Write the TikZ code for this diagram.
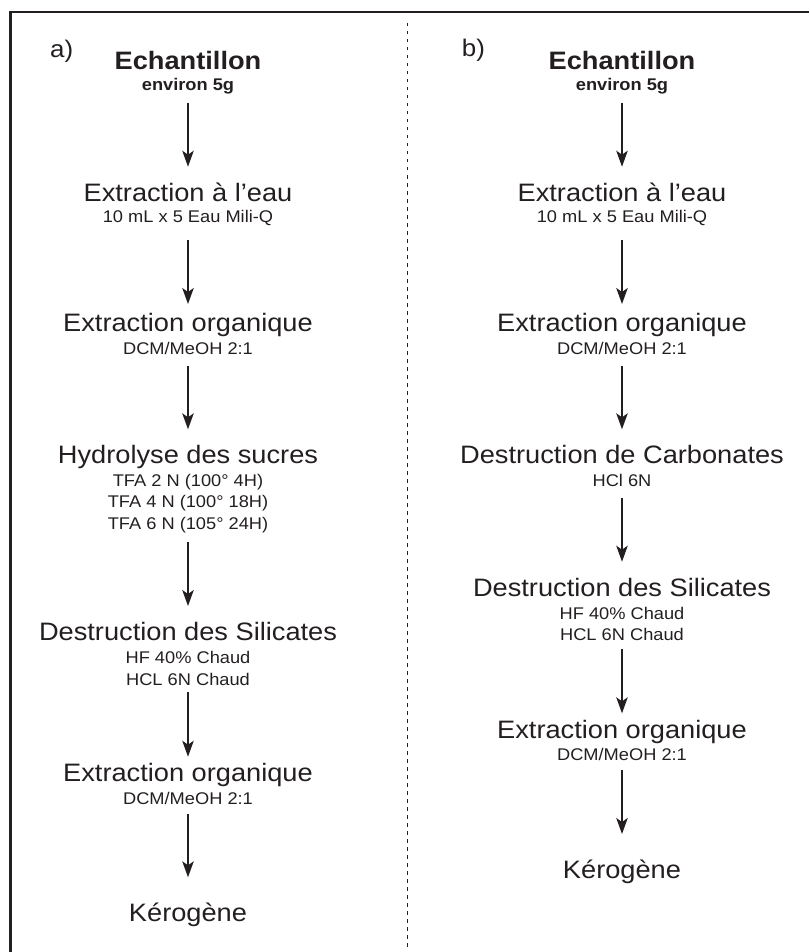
\documentclass[tikz,border=0pt]{standalone}
\usepackage{fontspec}
\setmainfont{Liberation Sans}[FakeStretch=1.08]
\usetikzlibrary{arrows.meta,calc}
\definecolor{ink}{RGB}{35,31,32}

\begin{document}
\begin{tikzpicture}[x=1pt,y=-1pt,
  every node/.style={inner sep=0pt,text=ink},
  stepname/.style={anchor=base,font=\fontsize{25.2}{28}\selectfont},
  samplename/.style={anchor=base,font=\bfseries\fontsize{25.2}{28}\selectfont},
  note/.style={anchor=base,font=\fontsize{16.9}{20}\selectfont},
  boldnote/.style={anchor=base,font=\bfseries\fontsize{16.9}{20}\selectfont},
  panel/.style={anchor=base west,font=\fontsize{24}{27}\selectfont},
  flow/.style={draw=ink,line width=1.4pt,-{Stealth[length=16pt,width=11.5pt,inset=4pt]}}]
\useasboundingbox (0,0) rectangle (809,952);

% frame and separator
\draw[ink,line width=2.2pt] (10.5,952) -- (10.5,12) -- (809,12);
\draw[ink,line width=0.8pt,dash pattern=on 3.5pt off 4.5pt] (407.3,23) -- (407.3,947);

% ---- protocol a) ----
\node[panel] (pa) at (50,57.5) {a)};
\node[samplename] (as) at (188,69.3) {Echantillon};
\node[boldnote] (as1) at (188,91) {environ 5g};
\node[stepname] (aw) at (188,201) {Extraction à l’eau};
\node[note] (aw1) at (188,222.7) {10 mL x 5 Eau Mili-Q};
\node[stepname] (ao) at (188,331.7) {Extraction organique};
\node[note] (ao1) at (188,354.3) {DCM/MeOH 2:1};
\node[stepname] (ah) at (188,463.3) {Hydrolyse des sucres};
\node[note] (ah1) at (188,486.7) {TFA 2 N (100° 4H)};
\node[note] (ah2) at (188,507.7) {TFA 4 N (100° 18H)};
\node[note] (ah3) at (188,529.3) {TFA 6 N (105° 24H)};
\node[stepname] (ad) at (188,640.7) {Destruction des Silicates};
\node[note] (ad1) at (188,663.3) {HF 40\% Chaud};
\node[note] (ad2) at (188,685) {HCL 6N Chaud};
\node[stepname] (ae) at (188,781.7) {Extraction organique};
\node[note] (ae1) at (188,804) {DCM/MeOH 2:1};
\node[stepname] (ak) at (188,921.7) {Kérogène};

\draw[flow] ($(as1.base)+(0,11.7)$) -- ($(aw.base)+(0,-34.3)$);
\draw[flow] ($(aw1.base)+(0,17.3)$) -- ($(ao.base)+(0,-27.7)$);
\draw[flow] ($(ao1.base)+(0,11.4)$) -- ($(ah.base)+(0,-34)$);
\draw[flow] ($(ah3.base)+(0,12.4)$) -- ($(ad.base)+(0,-34.7)$);
\draw[flow] ($(ad2.base)+(0,7.3)$) -- ($(ae.base)+(0,-25)$);
\draw[flow] ($(ae1.base)+(0,10)$) -- ($(ak.base)+(0,-44.4)$);

% ---- protocol b) ----
\node[panel] (pb) at (461.7,57) {b)};
\node[samplename] (bs) at (622,69.3) {Echantillon};
\node[boldnote] (bs1) at (622,91) {environ 5g};
\node[stepname] (bw) at (622,201) {Extraction à l’eau};
\node[note] (bw1) at (622,222.7) {10 mL x 5 Eau Mili-Q};
\node[stepname] (bo) at (622,331.7) {Extraction organique};
\node[note] (bo1) at (622,354.3) {DCM/MeOH 2:1};
\node[stepname] (bc) at (622,463.3) {Destruction de Carbonates};
\node[note] (bc1) at (622,486) {HCl 6N};
\node[stepname] (bd) at (622,596.7) {Destruction des Silicates};
\node[note] (bd1) at (622,619) {HF 40\% Chaud};
\node[note] (bd2) at (622,640.7) {HCL 6N Chaud};
\node[stepname] (be) at (622,738.3) {Extraction organique};
\node[note] (be1) at (622,760) {DCM/MeOH 2:1};
\node[stepname] (bk) at (622,878.3) {Kérogène};

\draw[flow] ($(bs1.base)+(0,11.7)$) -- ($(bw.base)+(0,-34.3)$);
\draw[flow] ($(bw1.base)+(0,17.3)$) -- ($(bo.base)+(0,-27.7)$);
\draw[flow] ($(bo1.base)+(0,11.4)$) -- ($(bc.base)+(0,-34)$);
\draw[flow] ($(bc1.base)+(0,12.3)$) -- ($(bd.base)+(0,-35)$);
\draw[flow] ($(bd2.base)+(0,8.3)$) -- ($(be.base)+(0,-25)$);
\draw[flow] ($(be1.base)+(0,10)$) -- ($(bk.base)+(0,-44.3)$);
\end{tikzpicture}
\end{document}
